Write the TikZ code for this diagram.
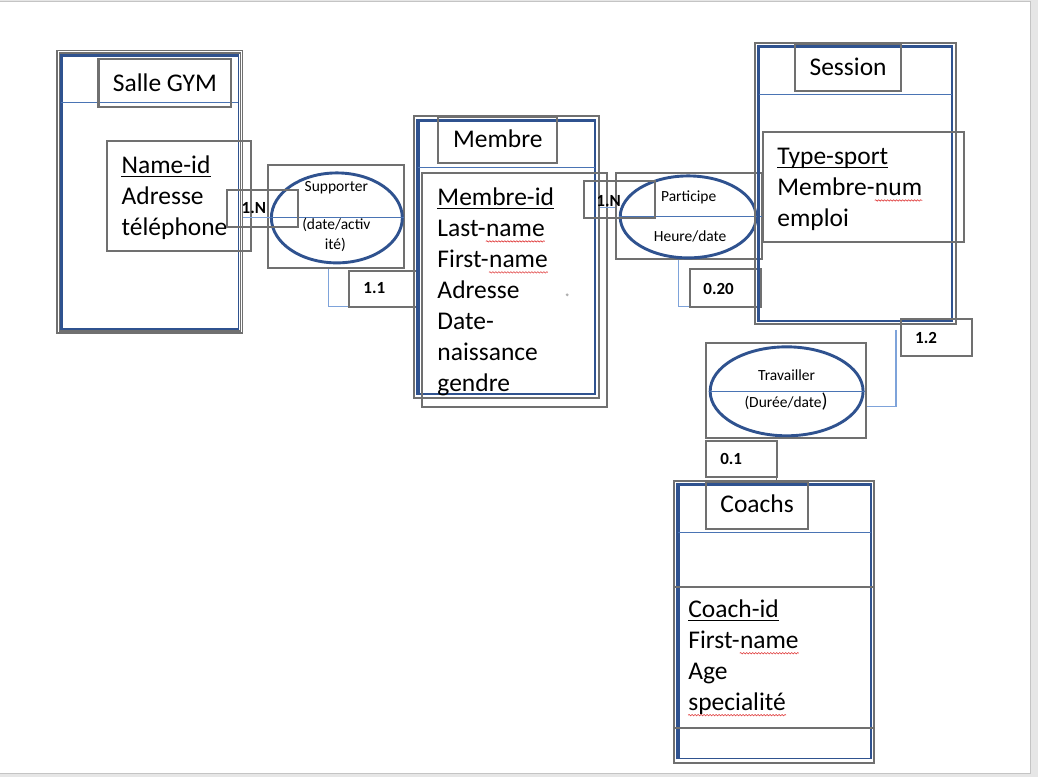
\documentclass[tikz,border=0pt]{standalone}
\usepackage{fontspec}
\setmainfont{Carlito}
\usetikzlibrary{shapes.geometric,decorations.pathmorphing}
\definecolor{boxgray}{HTML}{707070}
\definecolor{dblue}{HTML}{2F528F}
\definecolor{lblue}{HTML}{4A74B4}
\definecolor{cblue}{HTML}{7EA3DA}
\definecolor{spellred}{HTML}{E03C3C}
\definecolor{pagegray}{HTML}{E6E6E6}
\definecolor{edgegray}{HTML}{C4C4C4}
\newcommand\boxat[6]{\node[#6, inner sep=0pt, minimum width={#4-#2}, minimum height={#5-#3}] (#1) at ({(#2+#4)/2},{(#3+#5)/2}) {};}
\newcommand\ul[1]{\draw[black, line width=1.5pt] ([yshift=-2.6pt]#1.base west) -- ([yshift=-2.6pt]#1.base east);}
\newcommand\wave[1]{\draw[spellred, line width=0.6pt, decorate, decoration={snake, amplitude=0.7pt, segment length=3pt}] ([yshift=-4.5pt]#1.base west) -- ([yshift=-4.5pt]#1.base east);}
\begin{document}
\begin{tikzpicture}[x=1pt,y=-1pt,
  gbox/.style={draw=boxgray, line width=2.1pt},
  gthin/.style={draw=boxgray, line width=1.4pt},
  bframe/.style={draw=dblue, line width=1.5pt},
  bthick/.style={draw=dblue, line width=3.2pt},
  bthin/.style={draw=lblue, line width=1pt},
  relell/.style={ellipse, draw=dblue, line width=2.9pt, inner sep=0pt},
  conn/.style={draw=cblue, line width=1.1pt},
  bigtxt/.style={font=\fontsize{25.5}{31}\selectfont, inner sep=0pt},
  smalltxt/.style={font=\fontsize{15.5}{18}\selectfont, inner sep=0pt},
  cardtxt/.style={font=\bfseries\fontsize{17}{20}\selectfont, inner sep=0pt}]
% page
\fill[pagegray] (0,0) rectangle (1038,777);
\fill[white] (0,1.5) rectangle (1029.5,773.5);
\draw[edgegray, line width=1pt] (0,1) -- (1030,1) -- (1030,774) -- (0,774);
\useasboundingbox (0,0) rectangle (1038,777);

% ===== Salle GYM =====
\boxat{salleOut}{56.5}{50.5}{242}{333}{gthin}
\boxat{salleOut2}{59}{53}{240}{331}{gthin}
\boxat{salleB}{61.5}{56}{238}{329}{bframe}
\draw[bthick] (salleB.south west) |- (salleB.north east);
\draw[bthin] (61,103) -- (238,103);
\boxat{salleT}{98}{59}{231}{107}{gbox}
\node[bigtxt, anchor=base] (salleTt) at (164.5,92) {Salle GYM};
\boxat{salleA}{107}{141}{251}{251}{gbox}
\node[bigtxt, anchor=base west] (sa1) at (121,174) {Name-id};
\ul{sa1}
\node[bigtxt, anchor=base west] (sa2) at (121,205) {Adresse};
\node[bigtxt, anchor=base west] (sa3) at (121,236) {téléphone};

% ===== Supporter =====
\boxat{supBox}{268}{165}{404}{268}{gbox}
\node[relell, minimum width=131, minimum height=90] (supE) at (336.5,218) {};
\draw[conn] (salleOut.east |- supE.center) -- (supE.west);
\draw[bthin] (supE.west) -- (supE.east);
\node[smalltxt, anchor=base] (supT1) at (336,192) {Supporter};
\node[smalltxt, anchor=base] (supT2) at (336,230) {(date/activ};
\node[smalltxt, anchor=base] (supT3) at (335,250) {ité)};
\boxat{c1N}{227}{190}{298}{227}{gbox}
\node[cardtxt, anchor=base] (c1Nt) at (253.5,214) {1.N};
\boxat{c11}{349}{271}{419}{307}{gbox}
\node[cardtxt, anchor=base] (c11t) at (374,294) {1.1};
\draw[conn] ([xshift=-7.5pt]supBox.south) |- ([yshift=1pt]c11.south west);

% ===== Membre =====
\boxat{memOut}{414}{116}{599}{398}{gbox}
\boxat{memB}{418.5}{121}{595}{394}{bframe}
\draw[bthick] (memB.south west) |- (memB.north east);
\draw[bthin] (418,168) -- (595,168);
\boxat{memT}{438}{117}{557}{163}{gbox}
\node[bigtxt, anchor=base] (memTt) at (497.5,148) {Membre};
\boxat{memA}{422}{173}{607}{407}{gbox}
\node[bigtxt, anchor=base west] (ma1) at (437,206) {Membre-id};
\ul{ma1}
\node[bigtxt, anchor=base west] (ma2) at (437,237) {Last-};
\node[bigtxt, anchor=base west] (ma2b) at (ma2.base east) {name};
\wave{ma2b}
\node[bigtxt, anchor=base west] (ma3) at (437,268) {First-};
\node[bigtxt, anchor=base west] (ma3b) at (ma3.base east) {name};
\wave{ma3b}
\node[bigtxt, anchor=base west] (ma4) at (437,299) {Adresse};
\node[bigtxt, anchor=base west] (ma5) at (437,330) {Date-};
\node[bigtxt, anchor=base west] (ma6) at (437,361) {naissance};
\node[bigtxt, anchor=base west] (ma7) at (437,392) {gendre};
\fill[boxgray!55] (567,295) circle (1.6);

% ===== Participe =====
\boxat{partBox}{616}{173}{762}{259}{gbox}
\begin{scope}
\clip (598,178) rectangle (620.5,219);
\node[cardtxt, anchor=base west] (p1Nt) at (596,207) {1.N};
\end{scope}
\node[relell, minimum width=136, minimum height=82] (partE) at (688,217) {};
\draw[bthin] (partE.west) -- (partBox.east |- partE.center);
\coordinate (pm) at ([yshift=9pt]partE.west);
\draw[conn] (memOut.east |- pm) -- (partBox.west |- pm);
\boxat{p1N}{584}{181}{655}{218}{gbox}
\node[smalltxt, anchor=base] (partT1) at (688.5,202) {Participe};
\node[smalltxt, anchor=base] (partT2) at (690,242) {Heure/date};
\boxat{c020}{690}{269}{761}{307}{gbox}
\node[cardtxt, anchor=base] (c020t) at (718.5,295) {0.20};
\draw[conn] ([xshift=-11pt]partBox.south) |- ([yshift=1pt]c020.south west);

% ===== Session =====
\boxat{sesOut}{755}{43}{956}{324}{gbox}
\boxat{sesB}{759.5}{47.5}{952}{321}{bframe}
\draw[bthick] (sesB.south west) |- (sesB.north east);
\draw[bthin] (759,95) -- (952,95);
\boxat{sesT}{795}{44}{901}{91}{gbox}
\node[bigtxt, anchor=base] (sesTt) at (848,76) {Session};
\boxat{sesA}{763}{132}{964}{242}{gbox}
\node[bigtxt, anchor=base west] (se1) at (777,165) {Type-sport};
\ul{se1}
\node[bigtxt, anchor=base west] (se2) at (777,196) {Membre-};
\node[bigtxt, anchor=base west] (se2b) at (se2.base east) {num};
\wave{se2b}
\node[bigtxt, anchor=base west] (se3) at (777,227) {emploi};
\boxat{c12}{901}{319}{972}{356}{gbox}
\node[cardtxt, anchor=base] (c12t) at (926,344) {1.2};

% ===== Travailler =====
\boxat{travBox}{706}{343}{866}{438}{gbox}
\node[relell, minimum width=153, minimum height=89] (travE) at (786.5,391.5) {};
\draw[bthin] (travE.west) -- (travE.east);
\node[smalltxt, anchor=base] (travT1) at (786.5,381) {Travailler};
\node[smalltxt, anchor=base] (travT2) at (786,408) {(Durée/date{\fontsize{20}{22}\selectfont)}};
\coordinate (c12line) at ([xshift=-4pt,yshift=-12pt]c12.north west);
\draw[conn] (c12line) |- ([yshift=-16.5pt]travBox.east);
\boxat{c01}{706}{441}{777}{477}{gbox}
\node[cardtxt, anchor=base] (c01t) at (731,465) {0.1};

% ===== Coachs =====
\boxat{coOut}{674}{481}{874}{763}{gbox}
\boxat{coB}{678.5}{485.5}{871}{759}{bframe}
\draw[bthick] (coB.south west) |- (coB.north east);
\draw[bthin] (678,533) -- (871,533);
\boxat{coT}{706}{482}{808}{529}{gbox}
\node[bigtxt, anchor=base] (coTt) at (757,513) {Coachs};
\boxat{coA}{674}{587}{874}{728}{gbox}
\node[bigtxt, anchor=base west] (co1) at (688,618) {Coach-id};
\ul{co1}
\node[bigtxt, anchor=base west] (co2) at (688,649) {First-};
\node[bigtxt, anchor=base west] (co2b) at (co2.base east) {name};
\wave{co2b}
\node[bigtxt, anchor=base west] (co3) at (688,680) {Age};
\node[bigtxt, anchor=base west] (co4) at (688,711) {specialité};
\wave{co4}
\draw[gthin, line width=0.8pt] ([xshift=-2pt]c01.south east) -- ([xshift=-2pt]c01.south east |- coT.north);
\end{tikzpicture}
\end{document}
